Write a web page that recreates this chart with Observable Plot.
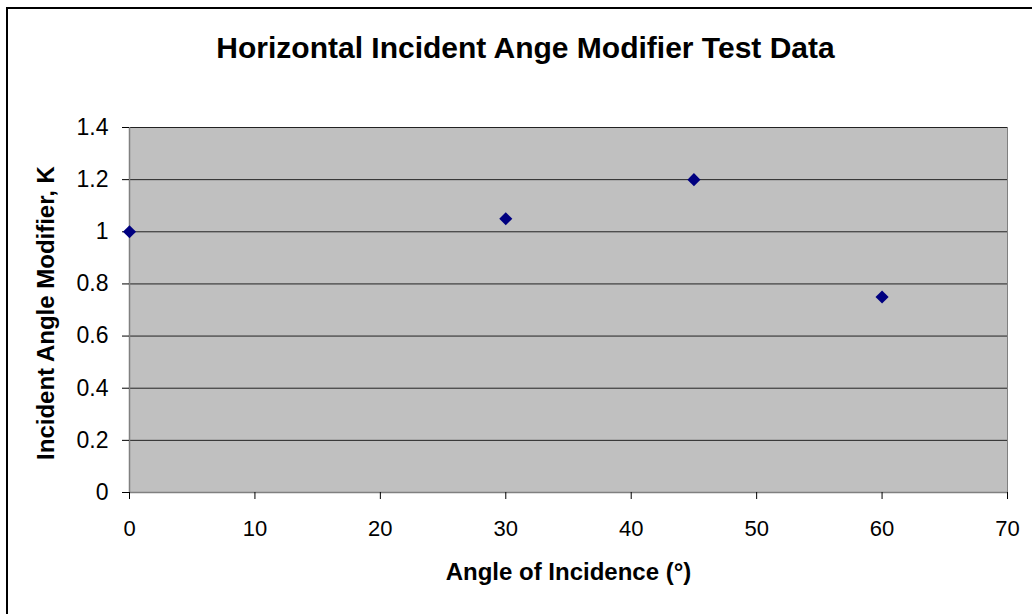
<!DOCTYPE html>
<html>
<head>
<meta charset="utf-8">
<script src="https://cdn.jsdelivr.net/npm/d3@7"></script>
<script src="https://cdn.jsdelivr.net/npm/@observablehq/plot@0.6"></script>
<style>
  html, body { margin: 0; padding: 0; background: #fff; overflow: hidden; width: 1032px; height: 614px; }
  #border { position: absolute; left: 6px; top: 7px; width: 1040px; height: 620px; border: 2px solid #000; box-sizing: border-box; pointer-events: none; }
  #chart { position: absolute; left: 0; top: 0; }
</style>
</head>
<body>
<div id="chart"></div>
<div id="border"></div>
<script>
const title = "Horizontal Incident Ange Modifier Test Data";
const xLabel = "Angle of Incidence (°)";
const yLabel = "Incident Angle Modifier, K";
const angles = [0, 30, 45, 60];
const modifiers = [1.0, 1.05, 1.2, 0.75];
const xTicks = [0, 10, 20, 30, 40, 50, 60, 70];
const yTicks = [0, 0.2, 0.4, 0.6, 0.8, 1, 1.2, 1.4];

const data = angles.map((a, i) => ({angle: a, k: modifiers[i]}));
const font = "'Liberation Sans', Arial, sans-serif";

const chart = Plot.plot({
  width: 1032,
  height: 614,
  marginLeft: 129,
  marginRight: 25,
  marginTop: 127,
  marginBottom: 122,
  style: {fontFamily: font, background: "transparent", color: "#000", overflow: "visible"},
  x: {domain: [0, 70]},
  y: {domain: [0, 1.4]},
  marks: [
    Plot.frame({fill: "#c0c0c0", stroke: "#808080"}),
    Plot.ruleY(yTicks.slice(1), {stroke: "#222", strokeWidth: 1}),
    Plot.ruleX([0], {stroke: "#808080", strokeWidth: 1.5}),
    Plot.ruleY([0], {stroke: "#808080", strokeWidth: 1.5}),
    Plot.axisY({ticks: yTicks, tickSize: 7, tickPadding: 14, fontSize: 23, label: null, tickFormat: d => String(d), stroke: "#000"}),
    Plot.axisX({ticks: xTicks, tickSize: 7, tickPadding: 21, fontSize: 22, label: null, tickFormat: d => String(d), stroke: "#000"}),
    Plot.dot(data, {x: "angle", y: "k", symbol: "diamond2", r: 5.9, fill: "#000080", stroke: "none"}),
    Plot.text([title], {frameAnchor: "top", dx: -43, dy: -79, fontSize: 30, fontWeight: "bold", lineAnchor: "middle", fill: "#000"}),
    Plot.text([xLabel], {frameAnchor: "bottom", dy: 80, fontSize: 24, fontWeight: "bold", lineAnchor: "middle", fill: "#000"}),
    Plot.text([yLabel], {frameAnchor: "left", dx: -83, dy: 3, rotate: -90, fontSize: 24, fontWeight: "bold", lineAnchor: "middle", textAnchor: "middle", fill: "#000"})
  ]
});
document.getElementById("chart").appendChild(chart);
</script>
</body>
</html>
